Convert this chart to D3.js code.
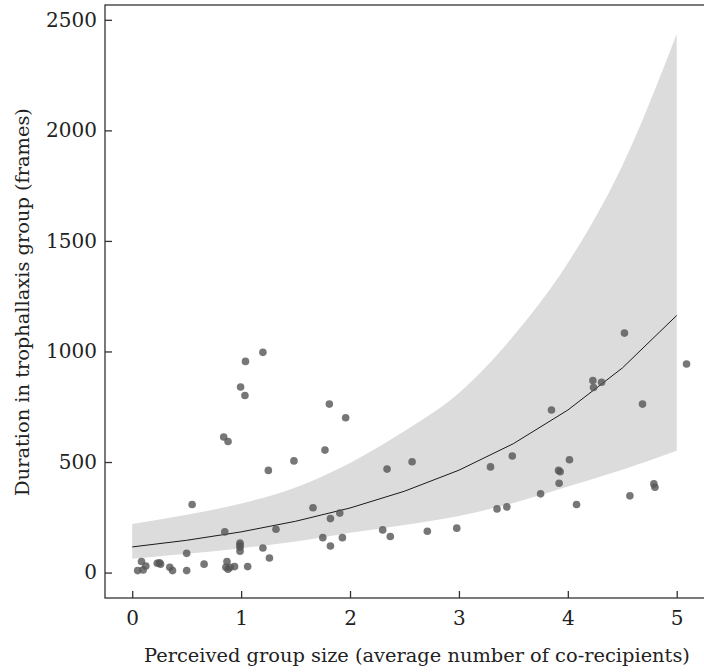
<!DOCTYPE html>
<html>
<head>
<meta charset="utf-8">
<script src="https://cdn.jsdelivr.net/npm/d3@7"></script>
<style>
  body { margin: 0; background: #fff; }
  svg text { font-family: "DejaVu Serif", serif; fill: #222; }
</style>
</head>
<body>
<div id="chart"></div>
<script>
// fitted curve and confidence band, sampled along x
const fitX = [0, 0.5, 1, 1.5, 2, 2.5, 3, 3.5, 4, 4.5, 5];
const fitMid = [116, 146, 184, 232, 292, 368, 463, 583, 735, 925, 1163];
const fitLow = [63, 85, 110, 140, 180, 215, 256, 315, 389, 465, 551];
const fitHigh = [220, 262, 312, 385, 496, 640, 812, 1070, 1400, 1840, 2436];

// observed points
const groupSize = [0.05, 0.10, 0.085, 0.125, 0.23, 0.25, 0.26, 0.345, 0.37, 0.50,
  0.50, 0.55, 0.66, 0.84, 0.88, 0.85, 0.86, 0.87, 0.88, 0.90,
  0.94, 0.99, 0.99, 0.99, 0.99, 0.995, 1.035, 1.04, 1.06, 1.20,
  1.20, 1.25, 1.26, 1.32, 1.485, 1.66, 1.75, 1.77, 1.81, 1.82,
  1.82, 1.906, 1.93, 1.96, 2.30, 2.34, 2.37, 2.57, 2.71, 2.98,
  3.29, 3.35, 3.44, 3.49, 3.75, 3.85, 3.915, 3.93, 3.92, 4.015,
  4.08, 4.23, 4.236, 4.31, 4.52, 4.57, 4.686, 4.79, 4.80, 5.09];
const duration = [9, 12, 50, 30, 42, 44, 38, 24, 9, 9,
  87, 308, 38, 613, 593, 184, 24, 50, 15, 24,
  27, 133, 125, 115, 97, 839, 801, 955, 27, 996,
  111, 462, 66, 196, 505, 293, 158, 554, 762, 244,
  120, 269, 158, 700, 193, 468, 163, 501, 187, 201,
  478, 288, 297, 527, 356, 735, 462, 456, 404, 510,
  308, 869, 837, 861, 1083, 347, 762, 401, 386, 943];

const xTicks = [0, 1, 2, 3, 4, 5];
const yTicks = [0, 500, 1000, 1500, 2000, 2500];

const width = 704, height = 672;
const plotLeft = 105, plotTop = 5, plotBottom = 598;

const svg = d3.select('#chart').append('svg')
  .attr('width', width)
  .attr('height', height);

const x = d3.scaleLinear().domain([-0.25, 5.3]).range([plotLeft, plotLeft + 5.55 * 108.9]);
const y = d3.scaleLinear().domain([-115, 2567]).range([plotBottom, plotTop]);

const fit = fitX.map((v, i) => ({ x: v, mid: fitMid[i], lo: fitLow[i], hi: fitHigh[i] }));

svg.append('path')
  .datum(fit)
  .attr('fill', '#dcdcdd')
  .attr('d', d3.area()
    .x(d => x(d.x))
    .y0(d => y(d.lo))
    .y1(d => y(d.hi))
    .curve(d3.curveMonotoneX));

svg.append('path')
  .datum(fit)
  .attr('fill', 'none')
  .attr('stroke', '#1a1a1a')
  .attr('stroke-width', 1)
  .attr('d', d3.line()
    .x(d => x(d.x))
    .y(d => y(d.mid)));

svg.append('g')
  .selectAll('circle')
  .data(groupSize.map((v, i) => [v, duration[i]]))
  .enter().append('circle')
  .attr('cx', d => x(d[0]))
  .attr('cy', d => y(d[1]))
  .attr('r', 3.8)
  .attr('fill', '#555')
  .attr('fill-opacity', 0.8);

// frame (right side sits just past the page edge)
svg.append('rect')
  .attr('x', plotLeft)
  .attr('y', plotTop)
  .attr('width', x.range()[1] - plotLeft)
  .attr('height', plotBottom - plotTop)
  .attr('fill', 'none')
  .attr('stroke', '#333')
  .attr('stroke-width', 1.3);

const yAxis = svg.append('g')
  .attr('transform', 'translate(' + plotLeft + ',0)')
  .call(d3.axisLeft(y).tickValues(yTicks).tickFormat(d3.format('d'))
    .tickSizeInner(-7).tickSizeOuter(0).tickPadding(8));
yAxis.select('.domain').remove();

const xAxis = svg.append('g')
  .attr('transform', 'translate(0,' + plotBottom + ')')
  .call(d3.axisBottom(x).tickValues(xTicks).tickFormat(d3.format('d'))
    .tickSizeInner(-7).tickSizeOuter(0).tickPadding(13));
xAxis.select('.domain').remove();

svg.selectAll('.tick line').attr('stroke', '#333').attr('stroke-width', 1.3);
svg.selectAll('.tick text')
  .style('font-family', '"DejaVu Serif", serif')
  .style('font-size', '20px')
  .attr('fill', '#222');

svg.append('text')
  .attr('x', 417)
  .attr('y', 662)
  .attr('text-anchor', 'middle')
  .style('font-size', '19.4px')
  .text('Perceived group size (average number of co-recipients)');

svg.append('text')
  .attr('transform', 'translate(29,302) rotate(-90)')
  .attr('text-anchor', 'middle')
  .style('font-size', '19.4px')
  .text('Duration in trophallaxis group (frames)');
</script>
</body>
</html>
